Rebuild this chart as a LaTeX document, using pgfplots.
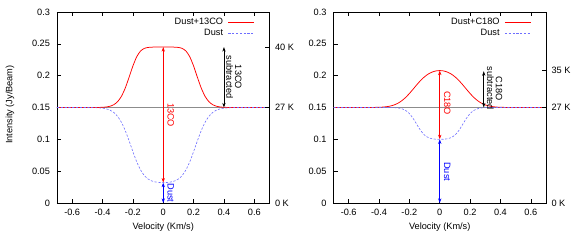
\documentclass[border=0pt]{standalone}
\usepackage{fontspec}
\setmainfont{Liberation Sans}
\usepackage{pgfplots}
\pgfplotsset{compat=1.18}
\usetikzlibrary{arrows.meta}
\definecolor{basegray}{RGB}{140,140,140}
\definecolor{dustblue}{RGB}{110,110,255}
\definecolor{arrred}{RGB}{255,0,0}
\definecolor{arrblue}{RGB}{0,0,255}
\newcommand{\ff}{\fontsize{9.2}{9.2}\selectfont}
\pgfplotsset{
  panel/.style={
    scale only axis, width=212.5pt, height=191pt,
    xmin=-0.7, xmax=0.7, ymin=0, ymax=0.3,
    xtick={-0.6,-0.4,-0.2,0,0.2,0.4,0.6},
    xticklabels={-0.6,-0.4,-0.2,0,0.2,0.4,0.6},
    ytick={0,0.05,0.1,0.15,0.2,0.25,0.3},
    yticklabels={0,0.05,0.1,0.15,0.2,0.25,0.3},
    tick align=inside, major tick length=4pt,
    xtick pos=both, ytick pos=left,
    tick style={black, line width=0.5pt},
    axis line style={black, line width=0.6pt},
    /pgf/number format/assume math mode=true,
    font=\ff, ticklabel style={font=\ff},
    yticklabel style={xshift=-3.5pt},
    xticklabel style={yshift=-3pt},
    xlabel={Velocity (Km/s)},
    xlabel style={at={(axis description cs:0.5,0)}, anchor=base, yshift=-26.5pt, font=\ff},
    legend plot pos=right,
    legend image code/.code={\draw[##1] (0pt,0pt) -- (26pt,0pt);},
    legend style={at={(axis description cs:0.946,0.985)}, anchor=north east,
      draw=none, fill=none, cells={anchor=east}, font=\ff,
      /tikz/column sep=4pt,
      nodes={inner sep=1pt, text height=6.8pt, text depth=1.9pt}, row sep=0pt},
  },
  rightax/.style={
    scale only axis, width=212.5pt, height=191pt,
    xmin=-0.7, xmax=0.7, ymin=0, ymax=0.3,
    axis x line=none, axis y line*=right,
    tick align=inside, major tick length=4pt,
    tick style={black, line width=0.5pt},
    axis line style={black, line width=0.6pt},
    ticklabel style={font=\ff},
    yticklabel style={xshift=2pt},
  },
  redc/.style={draw=red, color=red, line width=0.75pt},
  bluec/.style={draw=dustblue, color=dustblue, line width=0.6pt, dash pattern=on 2.2pt off 1.6pt},
  basel/.style={draw=basegray, line width=1.8pt},
  arr/.style={line width=0.8pt, {Stealth[length=4.5pt,width=3.2pt,inset=1.2pt]}-{Stealth[length=4.5pt,width=3.2pt,inset=1.2pt]}},
}
\begin{document}
\begin{tikzpicture}
\path[use as bounding box] (0pt,0pt) rectangle (574pt,240pt);
% ---------------- left panel ----------------
\begin{axis}[panel, at={(57pt,37pt)}, anchor=south west,
  ylabel={Intensity (Jy/Beam)},
  ylabel style={at={(axis description cs:-0.221,0.515)}, anchor=center, font=\ff}]
\addplot[basel, forget plot] coordinates {(-0.7,0.15) (0.7,0.15)};
\addplot[redc, smooth, tension=0.4] coordinates {
(-0.7,0.15) (-0.5,0.15) (-0.45,0.15004) (-0.425,0.15012) (-0.4,0.15033) (-0.375,0.15085)
(-0.35,0.15202) (-0.325,0.15451) (-0.3,0.15934) (-0.275,0.16777) (-0.25,0.18072)
(-0.225,0.19750) (-0.2,0.21517) (-0.175,0.22964) (-0.15,0.23860) (-0.125,0.24279)
(-0.1,0.24432) (-0.075,0.24479) (-0.05,0.24492) (-0.025,0.24496) (0,0.24497)
(0.025,0.24496) (0.05,0.24492) (0.075,0.24479) (0.1,0.24432) (0.125,0.24279)
(0.15,0.23860) (0.175,0.22964) (0.2,0.21517) (0.225,0.19750) (0.25,0.18072)
(0.275,0.16777) (0.3,0.15934) (0.325,0.15451) (0.35,0.15202) (0.375,0.15085)
(0.4,0.15033) (0.425,0.15012) (0.45,0.15004) (0.5,0.15) (0.7,0.15)};
\addlegendentry{Dust+13CO}
\addplot[bluec, smooth, tension=0.4] coordinates {
(-0.7,0.15) (-0.5,0.15) (-0.45,0.1498) (-0.4,0.14898) (-0.375,0.14787) (-0.35,0.14575)
(-0.325,0.14200) (-0.3,0.13582) (-0.275,0.12644) (-0.25,0.11355) (-0.225,0.09772)
(-0.2,0.08073) (-0.175,0.06487) (-0.15,0.05212) (-0.125,0.04321) (-0.1,0.03770)
(-0.075,0.03460) (-0.05,0.03298) (-0.025,0.03222) (0,0.032)
(0.025,0.03222) (0.05,0.03298) (0.075,0.03460) (0.1,0.03770) (0.125,0.04321)
(0.15,0.05212) (0.175,0.06487) (0.2,0.08073) (0.225,0.09772) (0.25,0.11355)
(0.275,0.12644) (0.3,0.13582) (0.325,0.14200) (0.35,0.14575) (0.375,0.14787)
(0.4,0.14898) (0.45,0.1498) (0.5,0.15) (0.7,0.15)};
\addlegendentry{Dust}
\addplot[arr, draw=arrred, forget plot] coordinates {(0,0.032) (0,0.245)};
\addplot[arr, draw=arrblue, forget plot] coordinates {(0,0) (0,0.032)};
\addplot[arr, draw=black, forget plot] coordinates {(0.4,0.15) (0.4,0.245)};
\node[red, rotate=-90, font=\ff] at (axis cs:0.05,0.138) {13CO};
\node[blue, rotate=-90, font=\ff] at (axis cs:0.05,0.0157) {Dust};
\node[black, rotate=-90, font=\ff, align=center, inner sep=0pt] at (axis cs:0.465,0.198) {13CO\\[-0.5pt]subtracted};
\end{axis}
\begin{axis}[rightax, at={(57pt,37pt)}, anchor=south west,
  ytick={0,0.15,0.245}, yticklabels={0 K,27 K,40 K}]
\end{axis}
% ---------------- right panel ----------------
\begin{axis}[panel, at={(333.5pt,37pt)}, anchor=south west]
\addplot[basel, forget plot] coordinates {(-0.7,0.15) (0.7,0.15)};
\addplot[redc, smooth, tension=0.4] coordinates {
(-0.7,0.15) (-0.5,0.15) (-0.45,0.15007) (-0.4,0.15033) (-0.375,0.15066) (-0.35,0.15127)
(-0.325,0.15233) (-0.3,0.15408) (-0.275,0.15676) (-0.25,0.16061) (-0.225,0.16572)
(-0.2,0.17196) (-0.175,0.17895) (-0.15,0.18607) (-0.125,0.19269) (-0.1,0.19830)
(-0.075,0.20265) (-0.05,0.20567) (-0.025,0.20743) (0,0.208)
(0.025,0.20743) (0.05,0.20567) (0.075,0.20265) (0.1,0.19830) (0.125,0.19269)
(0.15,0.18607) (0.175,0.17895) (0.2,0.17196) (0.225,0.16572) (0.25,0.16061)
(0.275,0.15676) (0.3,0.15408) (0.325,0.15233) (0.35,0.15127) (0.375,0.15066)
(0.4,0.15033) (0.45,0.15007) (0.5,0.15) (0.7,0.15)};
\addlegendentry{Dust+C18O}
\addplot[bluec, smooth, tension=0.4] coordinates {
(-0.7,0.15) (-0.35,0.14998) (-0.3,0.14974) (-0.275,0.14925) (-0.25,0.14805)
(-0.225,0.14543) (-0.2,0.14049) (-0.175,0.13274) (-0.15,0.12299) (-0.125,0.11355)
(-0.1,0.10663) (-0.075,0.10271) (-0.05,0.10090) (-0.025,0.10018) (0,0.1)
(0.025,0.10018) (0.05,0.10090) (0.075,0.10271) (0.1,0.10663) (0.125,0.11355)
(0.15,0.12299) (0.175,0.13274) (0.2,0.14049) (0.225,0.14543) (0.25,0.14805)
(0.275,0.14925) (0.3,0.14974) (0.35,0.14998) (0.7,0.15)};
\addlegendentry{Dust}
\addplot[arr, draw=arrred, forget plot] coordinates {(0,0.1) (0,0.208)};
\addplot[arr, draw=arrblue, forget plot] coordinates {(0,0) (0,0.1)};
\addplot[arr, draw=black, forget plot] coordinates {(0.29,0.15) (0.29,0.207)};
\node[red, rotate=-90, font=\ff] at (axis cs:0.05,0.157) {C18O};
\node[blue, rotate=-90, font=\ff] at (axis cs:0.05,0.049) {Dust};
\node[black, rotate=-90, font=\ff, align=center, inner sep=0pt] at (axis cs:0.362,0.18) {C18O\\[-0.5pt]subtracted};
\end{axis}
\begin{axis}[rightax, at={(333.5pt,37pt)}, anchor=south west,
  ytick={0,0.15,0.2085}, yticklabels={0 K,27 K,35 K}]
\end{axis}
\end{tikzpicture}
\end{document}
